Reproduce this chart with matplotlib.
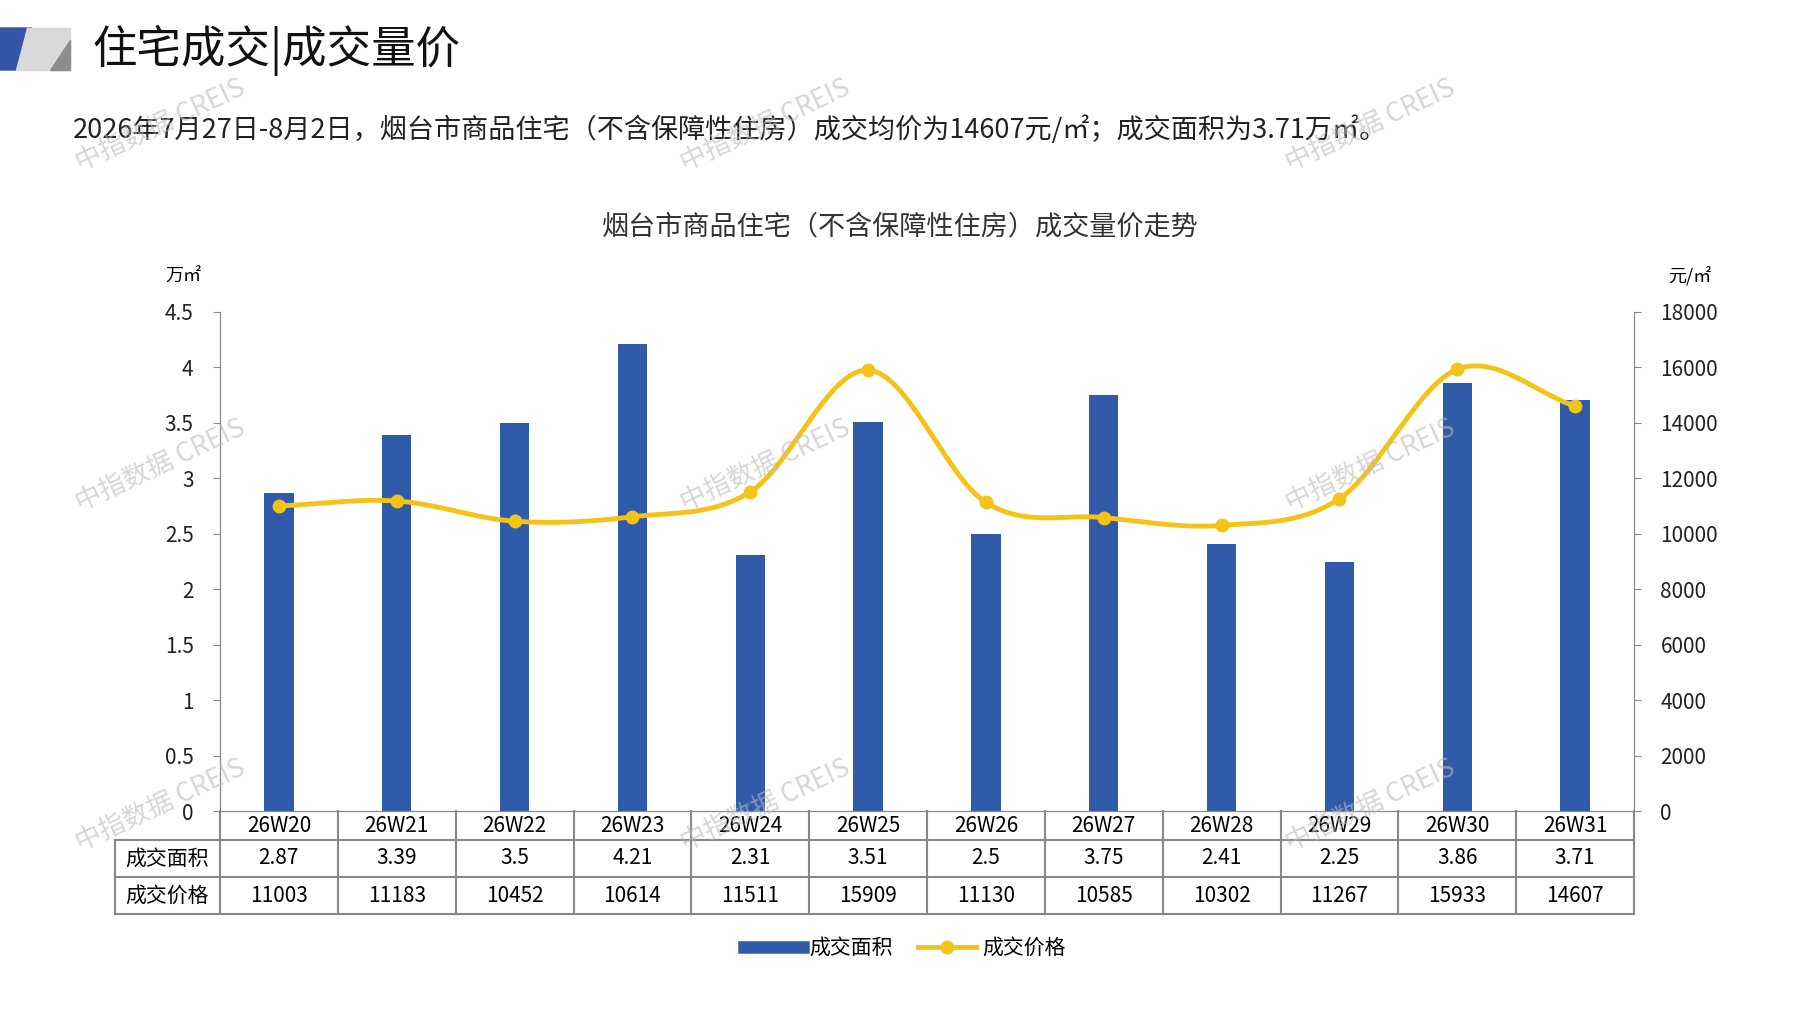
import numpy as np
import matplotlib.pyplot as plt
from matplotlib.patches import Polygon
from matplotlib.lines import Line2D

plt.rcParams['font.family'] = ['Noto Sans CJK SC', 'DejaVu Sans']

weeks = ['26W20', '26W21', '26W22', '26W23', '26W24', '26W25',
         '26W26', '26W27', '26W28', '26W29', '26W30', '26W31']
area = [2.87, 3.39, 3.5, 4.21, 2.31, 3.51, 2.5, 3.75, 2.41, 2.25, 3.86, 3.71]
area_labels = ['2.87', '3.39', '3.5', '4.21', '2.31', '3.51', '2.5', '3.75', '2.41', '2.25', '3.86', '3.71']
price = [11003, 11183, 10452, 10614, 11511, 15909, 11130, 10585, 10302, 11267, 15933, 14607]

W, H = 1797, 1010
fig = plt.figure(figsize=(W / 100, H / 100), dpi=100)

def fx(px):
    return px / W

def fy(py):
    return 1 - py / H

# header graphic
fig.patches.append(Polygon([(fx(0), fy(28)), (fx(32), fy(28)), (fx(16), fy(70)), (fx(0), fy(70))],
                           closed=True, transform=fig.transFigure, color='#3556a6'))
fig.patches.append(Polygon([(fx(27), fy(28)), (fx(70), fy(28)), (fx(70), fy(70)), (fx(16), fy(70))],
                           closed=True, transform=fig.transFigure, color='#d9d9d9'))
fig.patches.append(Polygon([(fx(70), fy(40)), (fx(70), fy(70)), (fx(50), fy(70))],
                           closed=True, transform=fig.transFigure, color='#8c8c8c'))
fig.text(fx(92), fy(50), '住宅成交|成交量价', fontsize=32, va='center', color='#111111')
fig.text(fx(73), fy(130), '2026年7月27日-8月2日，烟台市商品住宅（不含保障性住房）成交均价为14607元/㎡；成交面积为3.71万㎡。',
         fontsize=19.5, va='center', color='#222222')
fig.text(fx(900), fy(227), '烟台市商品住宅（不含保障性住房）成交量价走势', fontsize=19.5,
         ha='center', va='center', color='#333333')

L, R, T, B = 220, 1634, 312, 811
ax = fig.add_axes([fx(L), fy(B), fx(R) - fx(L), fy(T) - fy(B)])
ax2 = ax.twinx()

x = np.arange(len(weeks))
ax.bar(x, area, width=0.25, color='#2f5ba8', zorder=2)
ax.set_xlim(-0.5, len(weeks) - 0.5)
ax.set_ylim(0, 4.5)
ax.set_yticks(np.arange(0, 4.51, 0.5))
ax.set_yticklabels(['0', '0.5', '1', '1.5', '2', '2.5', '3', '3.5', '4', '4.5'])
ax2.set_ylim(0, 18000)
ax2.set_yticks(np.arange(0, 18001, 2000))

# smooth line through price points (Catmull-Rom)
px = np.array(x, dtype=float)
py = np.array(price, dtype=float)
ppx = np.concatenate([[2 * px[0] - px[1]], px, [2 * px[-1] - px[-2]]])
ppy = np.concatenate([[2 * py[0] - py[1]], py, [2 * py[-1] - py[-2]]])
sx, sy = [], []
t = np.linspace(0, 1, 30)
for i in range(1, len(ppx) - 2):
    for arr, out in ((ppx, sx), (ppy, sy)):
        p0, p1, p2, p3 = arr[i - 1], arr[i], arr[i + 1], arr[i + 2]
        out.extend(0.5 * (2 * p1 + (-p0 + p2) * t + (2 * p0 - 5 * p1 + 4 * p2 - p3) * t ** 2
                          + (-p0 + 3 * p1 - 3 * p2 + p3) * t ** 3))
ax2.plot(sx, sy, color='#f5c218', lw=3.5, zorder=3)
ax2.plot(px, py, 'o', color='#f5c218', ms=9, zorder=4)

for a in (ax, ax2):
    a.spines['top'].set_visible(False)
    for s in ('left', 'right', 'bottom'):
        a.spines[s].set_color('#888888')
    a.tick_params(labelsize=15, colors='#222222', length=5, color='#888888')
ax.set_xticks([])
ax.tick_params(axis='y', pad=14)
ax2.tick_params(axis='y', pad=14)

fig.text(fx(183), fy(276), '万㎡', fontsize=13, ha='center', va='center')
fig.text(fx(1690), fy(276), '元/㎡', fontsize=13, ha='center', va='center')

# data table under the axis
ah = B - T
def ay(py_):
    return (B - py_) / ah
lc = '#888888'
y0, y1, y2, y3 = ay(811), ay(840), ay(877), ay(914)
xl = (115 - L) / (R - L)
kw = dict(transform=ax.transAxes, clip_on=False, color=lc, lw=1.5)
ax.add_line(Line2D([xl, 1], [y1, y1], **kw))
ax.add_line(Line2D([xl, 1], [y2, y2], **kw))
ax.add_line(Line2D([xl, 1], [y3, y3], **kw))
ax.add_line(Line2D([xl, xl], [y1, y3], **kw))
for i in range(len(weeks) + 1):
    ax.add_line(Line2D([i / len(weeks)] * 2, [y0, y3], **kw))
for i, wk in enumerate(weeks):
    cx = (i + 0.5) / len(weeks)
    ax.text(cx, (y0 + y1) / 2, wk, transform=ax.transAxes, ha='center', va='center', fontsize=15)
    ax.text(cx, (y1 + y2) / 2, area_labels[i], transform=ax.transAxes, ha='center', va='center', fontsize=15)
    ax.text(cx, (y2 + y3) / 2, str(price[i]), transform=ax.transAxes, ha='center', va='center', fontsize=15)
ax.text(xl / 2, (y1 + y2) / 2, '成交面积', transform=ax.transAxes, ha='center', va='center', fontsize=15)
ax.text(xl / 2, (y2 + y3) / 2, '成交价格', transform=ax.transAxes, ha='center', va='center', fontsize=15)

# legend
handles = [Line2D([], [], color='#2f5ba8', lw=9),
           Line2D([], [], color='#f5c218', lw=3.5, marker='o', ms=9)]
fig.legend(handles, ['成交面积', '成交价格'], loc='center', bbox_to_anchor=(fx(905), fy(948)),
           ncol=2, frameon=False, fontsize=15, handlelength=2.8, columnspacing=1.2, handletextpad=0.3)

# watermarks
for wx, wy in [(160, 125), (765, 125), (1370, 125), (160, 465), (765, 465), (1370, 465),
               (160, 805), (765, 805), (1370, 805)]:
    fig.text(fx(wx), fy(wy), '中指数据 CREIS', fontsize=19, rotation=25, color='#bbbbbb',
             alpha=0.6, ha='center', va='center')

fig.savefig('out.png', dpi=100)
